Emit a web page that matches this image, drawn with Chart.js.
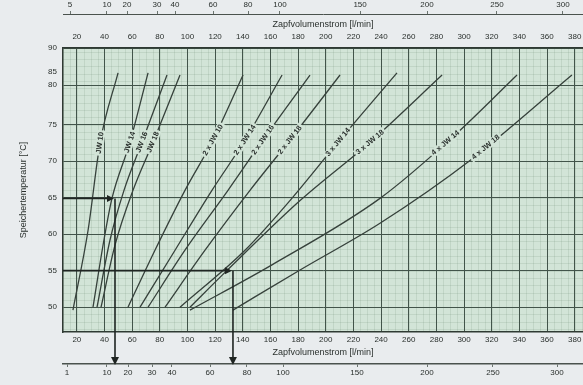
<!DOCTYPE html>
<html>
<head>
<meta charset="utf-8">
<script src="https://cdn.jsdelivr.net/npm/chart.js@4.4.0/dist/chart.umd.min.js"></script>
<style>
  html, body { margin: 0; padding: 0; background: #e9ecee; }
  canvas { display: block; }
</style>
</head>
<body>
<canvas id="chart" width="583" height="385"></canvas>
<script>
// Zapfvolumenstrom axis (l/min)
const flowTicks = [20, 40, 60, 80, 100, 120, 140, 160, 180, 200, 220, 240, 260, 280, 300, 320, 340, 360, 380];

// Speichertemperatur axis (scan is compressed near the top)
const tempTicks = [50, 55, 60, 65, 70, 75, 80.4, 82.2, 85.5];
const tempTickLabels = ['50', '55', '60', '65', '70', '75', '80', '85', '90'];

// secondary (non-linear) scales above and below the chart
const topScalePos = [15.1, 41.8, 56.3, 78.0, 91.0, 118.5, 143.8, 166.9, 224.8, 273.2, 323.8, 371.5];
const topScaleLabels = ['5', '10', '20', '30', '40', '60', '80', '100', '150', '200', '250', '300'];
const bottomScalePos = [12.9, 41.8, 57.0, 74.4, 88.8, 116.3, 143.0, 169.1, 222.6, 273.2, 320.9, 367.2];
const bottomScaleLabels = ['1', '10', '20', '30', '40', '60', '80', '100', '150', '200', '250', '300'];

// curves: storage temperature vs. tap flow
const curveNames = ['JW 10', 'JW 14', 'JW 16', 'JW 18',
  '2 x JW 10', '2 x JW 14', '2 x JW 16', '2 x JW 18',
  '3 x JW 14', '3 x JW 18', '4 x JW 14', '4 x JW 18'];
const curveFlows = [
  [17.2, 28.1, 36.8, 49.8],
  [31.7, 39.6, 45.4, 58.4, 71.5],
  [34.6, 44.0, 54.1, 67.1, 85.2],
  [37.5, 47.6, 60.6, 75.1, 94.6],
  [57.0, 76.5, 98.2, 118.5, 140.2],
  [65.7, 91.0, 117.7, 141.6, 168.4],
  [71.5, 98.2, 129.3, 154.6, 188.6],
  [83.8, 112.7, 145.2, 174.1, 210.3],
  [94.6, 141.6, 174.1, 208.9, 251.5],
  [101.8, 127.9, 181.4, 232.0, 284.1],
  [101.8, 161.1, 239.2, 293.5, 338.3],
  [132.9, 181.4, 239.2, 304.3, 378.0]
];
const curveTemps = [
  [49.6, 60.5, 72.5, 82.1],
  [50, 59.2, 64.9, 72.6, 82.1],
  [50, 59.2, 66.0, 72.6, 81.8],
  [50, 58.5, 66.0, 72.6, 81.8],
  [50, 57.8, 66.0, 72.9, 81.8],
  [50, 57.8, 66.0, 72.9, 81.8],
  [50, 57.8, 66.0, 72.9, 81.8],
  [50, 57.8, 66.0, 72.9, 81.8],
  [50, 57.8, 64.6, 72.6, 82.1],
  [50, 54.9, 64.6, 72.6, 81.8],
  [49.6, 55.8, 64.9, 73.6, 81.8],
  [49.6, 55.1, 61.5, 70.1, 81.8]
];
// where the curve labels sit (temperature along each curve)
const labelTemps = [72.5, 72.6, 72.6, 72.6, 72.9, 72.9, 72.9, 72.9, 72.6, 72.6, 72.5, 71.9];

// example reading arrows
const arrowTemps = [64.9, 55.0];
const arrowFlows = [47.6, 132.9];

const ink = '#2a302d';
const gridInk = '#42544a';
const paperGreen = '#d2e4d7';
const font = { family: 'Liberation Sans', size: 8 };
const titleFont = { family: 'Liberation Sans', size: 9 };

// green graph paper with fine mm lines
const paperPlugin = {
  id: 'paper',
  beforeDraw(chart) {
    const { ctx, chartArea: a, scales } = chart;
    ctx.save();
    ctx.fillStyle = paperGreen;
    ctx.fillRect(a.left, a.top, a.right - a.left, a.bottom - a.top);
    ctx.strokeStyle = 'rgba(70,105,85,0.12)';
    ctx.lineWidth = 1;
    ctx.beginPath();
    for (let v = 10; v <= 386; v += 5) {
      const px = Math.round(scales.x.getPixelForValue(v)) + 0.5;
      ctx.moveTo(px, a.top); ctx.lineTo(px, a.bottom);
    }
    for (let t = 47; t <= 85; t += 1) {
      const py = Math.round(scales.y.getPixelForValue(t)) + 0.5;
      ctx.moveTo(a.left, py); ctx.lineTo(a.right, py);
    }
    ctx.stroke();
    ctx.restore();
  }
};

// rotated labels on the curves
const curveLabelPlugin = {
  id: 'curveLabels',
  afterDatasetsDraw(chart) {
    const { ctx, scales: { x, y } } = chart;
    ctx.save();
    ctx.font = 'bold 7.5px "Liberation Sans"';
    ctx.textAlign = 'center';
    ctx.textBaseline = 'middle';
    curveNames.forEach((name, i) => {
      const fl = curveFlows[i], tp = curveTemps[i], T = labelTemps[i];
      let j = 0;
      while (j < tp.length - 2 && tp[j + 1] < T) j++;
      const f = (T - tp[j]) / (tp[j + 1] - tp[j]);
      const flow = fl[j] + f * (fl[j + 1] - fl[j]);
      const px = x.getPixelForValue(flow), py = y.getPixelForValue(T);
      const ang = Math.atan2(y.getPixelForValue(tp[j + 1]) - y.getPixelForValue(tp[j]),
        x.getPixelForValue(fl[j + 1]) - x.getPixelForValue(fl[j]));
      ctx.save();
      ctx.translate(px, py);
      ctx.rotate(ang);
      const w = ctx.measureText(name).width;
      ctx.fillStyle = paperGreen;
      ctx.fillRect(-w / 2 - 2, -4, w + 4, 8);
      ctx.fillStyle = ink;
      ctx.fillText(name, 0, 0);
      ctx.restore();
    });
    ctx.restore();
  }
};

// reading arrows: horizontal to the curve, then down to the lower scale
const arrowPlugin = {
  id: 'arrows',
  afterDatasetsDraw(chart) {
    const { ctx, chartArea: a, scales } = chart;
    const bottom = scales.xBottomOuter.top;
    ctx.save();
    ctx.strokeStyle = '#1f2522';
    ctx.fillStyle = '#1f2522';
    ctx.lineWidth = 1.6;
    arrowTemps.forEach((T, i) => {
      const py = scales.y.getPixelForValue(T);
      const px = scales.x.getPixelForValue(arrowFlows[i]);
      ctx.beginPath();
      ctx.moveTo(a.left, py); ctx.lineTo(px - 3, py);
      ctx.moveTo(px, py); ctx.lineTo(px, bottom - 4);
      ctx.stroke();
      ctx.beginPath();
      ctx.moveTo(px - 1, py); ctx.lineTo(px - 8, py - 3.5); ctx.lineTo(px - 8, py + 3.5);
      ctx.closePath(); ctx.fill();
      ctx.beginPath();
      ctx.moveTo(px, bottom + 1); ctx.lineTo(px - 4, bottom - 7); ctx.lineTo(px + 4, bottom - 7);
      ctx.closePath(); ctx.fill();
    });
    ctx.restore();
  }
};

const setTicks = list => scale => { scale.ticks = list.map(v => ({ value: v })); };
const noPad = h => scale => { scale.height = h; scale.paddingLeft = 0; scale.paddingRight = 0; };

new Chart(document.getElementById('chart'), {
  type: 'line',
  data: {
    datasets: curveNames.map((name, i) => ({
      label: name,
      data: curveFlows[i].map((f, k) => ({ x: f, y: curveTemps[i][k] })),
      borderColor: '#36413b',
      borderWidth: 1.3,
      pointRadius: 0,
      cubicInterpolationMode: 'monotone',
      fill: false
    }))
  },
  options: {
    responsive: false,
    animation: false,
    layout: { padding: 0 },
    plugins: { legend: { display: false }, tooltip: { enabled: false } },
    scales: {
      x: {
        type: 'linear', position: 'bottom', min: 10, max: 386,
        afterBuildTicks: setTicks(flowTicks),
        afterFit: noPad(32),
        ticks: { font, color: ink, padding: 3, maxRotation: 0, autoSkip: false },
        grid: { color: gridInk, lineWidth: 1, drawTicks: false },
        border: { color: '#2f3a33', width: 1.5 },
        title: { display: true, text: 'Zapfvolumenstrom [l/min]', font: titleFont, color: ink, padding: { top: 0, bottom: 6 } }
      },
      xTop: {
        type: 'linear', position: 'top', min: 10, max: 386,
        afterBuildTicks: setTicks(flowTicks),
        afterFit: noPad(34),
        ticks: { font, color: ink, padding: 6, maxRotation: 0, autoSkip: false },
        grid: { display: false, drawTicks: false },
        border: { color: '#2f3a33', width: 1.5 },
        title: { display: true, text: 'Zapfvolumenstrom [l/min]', font: titleFont, color: ink, padding: { top: 5, bottom: 0 } }
      },
      xTopOuter: {
        type: 'linear', position: 'top', weight: 1, min: 10, max: 386,
        afterBuildTicks: setTicks(topScalePos),
        afterFit: noPad(14),
        ticks: { font, color: ink, padding: 1, maxRotation: 0, autoSkip: false,
          callback: (v, i) => topScaleLabels[i] },
        grid: { drawOnChartArea: false, drawTicks: true, tickLength: 3, color: '#6b746f' },
        border: { color: '#4a524d', width: 1 }
      },
      xBottomOuter: {
        type: 'linear', position: 'bottom', weight: 1, min: 10, max: 386,
        afterBuildTicks: setTicks(bottomScalePos),
        afterFit: noPad(21),
        ticks: { font, color: ink, padding: 1, maxRotation: 0, autoSkip: false,
          callback: (v, i) => bottomScaleLabels[i] },
        grid: { drawOnChartArea: false, drawTicks: true, tickLength: 3, color: '#6b746f' },
        border: { color: '#4a524d', width: 1.5 }
      },
      y: {
        type: 'linear', position: 'left', min: 46.6, max: 85.5,
        afterBuildTicks: setTicks(tempTicks),
        afterFit: scale => { scale.width = 63; scale.paddingTop = 0; scale.paddingBottom = 0; },
        ticks: { font, color: ink, padding: 6, autoSkip: false,
          callback: (v, i) => tempTickLabels[i] },
        grid: {
          color: c => tempTickLabels[c.index] === '85' ? 'rgba(0,0,0,0)' : gridInk,
          lineWidth: 1, drawTicks: false
        },
        border: { color: '#2f3a33', width: 1.5 },
        title: { display: true, text: 'Speichertemperatur [°C]', font: titleFont, color: ink, padding: { top: 18, bottom: 0 } }
      }
    }
  },
  plugins: [paperPlugin, curveLabelPlugin, arrowPlugin]
});
</script>
</body>
</html>
